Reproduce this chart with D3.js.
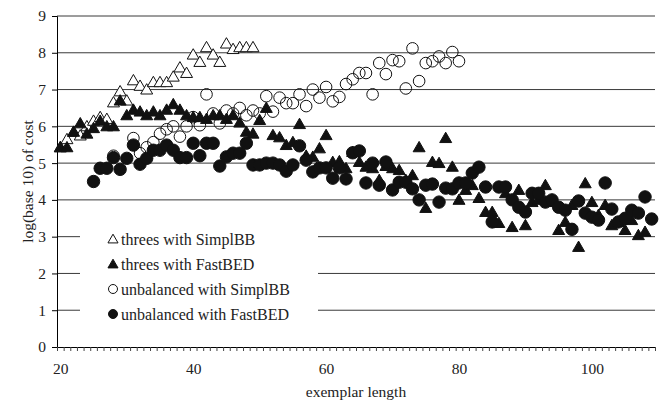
<!DOCTYPE html>
<html>
<head>
<meta charset="utf-8">
<script src="https://cdn.jsdelivr.net/npm/d3@7"></script>
<style>
  body { margin: 0; background: #fff; }
  svg, svg text { font-family: "Liberation Serif", "Times New Roman", serif; }
</style>
</head>
<body>
<script>
const width = 661, height = 401;
const plotLeft = 57, plotRight = 655, plotTop = 16, plotBottom = 347;
const serif = "'Liberation Serif', 'Times New Roman', serif";

// x categories: exemplar length 20..109
const firstLen = 20, lastLen = 109;
const xLabels = [20, 40, 60, 80, 100];
const yTicks = [0, 1, 2, 3, 4, 5, 6, 7, 8, 9];

// threes with SimplBB, lengths 20..49
const threesSimplStart = 20;
const threesSimpl = [5.43, 5.65, 5.85, 5.75, 6.0, 6.15, 6.25, 6.2, 6.65, 6.95,
  6.7, 7.25, 7.1, 7.0, 7.2, 7.2, 7.2, 7.35, 7.6, 7.45,
  7.95, 7.75, 8.15, 7.95, 7.75, 8.25, 8.1, 8.15, 8.15, 8.15];

// threes with FastBED, lengths 20..108
const threesFastStart = 20;
const threesFast = [5.43, 5.43, 5.85, 6.08, 5.8, 5.95, 6.15, 6.0, 6.0, 6.7,
  6.3, 6.45, 6.4, 6.3, 6.4, 6.3, 6.45, 6.6, 6.45, 6.3,
  6.25, 6.25, 6.2, 6.3, 6.3, 6.2, 6.3, 6.1, 5.85, 5.8,
  6.17, 6.5, 5.76, 5.7, 5.49, 5.57, 6.06, 5.2, 5.17, 5.4,
  5.76, 5.03, 5.05, 4.86, 5.3, 5.03, 4.9, 4.86, 4.54, 4.92,
  4.86, 4.81, 4.54, 4.67, 5.43, 3.78, 5.03, 5.0, 5.68, 4.9,
  4.0, 4.27, 4.4, 4.05, 3.67, 3.67, 3.37, 4.18, 3.26, 4.27,
  3.31, 3.94, 4.0, 4.4, 3.94, 3.18, 3.4, 3.86, 2.72, 4.45,
  3.94, 3.59, 3.86, 3.31, 3.4, 3.18, 3.45, 3.04, 3.13];

// unbalanced with SimplBB, lengths 28..80 (null = no point)
const unbalSimplStart = 28;
const unbalSimpl = [5.2, null, null, 5.68, 5.27, 5.43, 5.57, 5.8, 5.92, 6.0,
  5.72, 6.0, 6.25, 6.03, 6.87, 6.35, 6.08, 6.43, 6.35, 6.5,
  6.3, 6.43, 6.35, 6.82, 6.4, 6.78, 6.63, 6.63, 6.87, 6.55,
  7.0, 6.78, 7.07, 6.68, 6.8, 7.15, 7.28, 7.45, 7.45, 6.87,
  7.72, 7.42, 7.8, 7.77, 7.03, 8.12, 7.23, 7.72, 7.77, 7.9,
  7.72, 8.02, 7.77];

// unbalanced with FastBED, lengths 25..109
const unbalFastStart = 25;
const unbalFast = [4.5, 4.86, 4.86, 5.15, 4.83, 5.13, 5.49, 4.97, 5.13, 5.35,
  5.35, 5.49, 5.35, 5.15, 5.15, 5.54, 5.2, 5.54, 5.54, 4.92,
  5.17, 5.27, 5.27, 5.54, 4.95, 4.95, 5.0, 5.0, 4.95, 4.78,
  4.95, 5.47, 5.08, 4.76, 4.87, 4.87, 4.59, 4.87, 4.57, 5.28,
  5.33, 4.46, 5.0, 4.4, 5.03, 4.27, 4.48, 4.48, 4.3, 4.0,
  4.4, 4.43, 3.94, 4.32, 4.3, 4.46, 4.46, 4.73, 4.89, 4.35,
  3.4, 4.35, 4.35, 4.0, 3.8, 3.67, 4.18, 4.18, 3.94, 4.0,
  3.8, 3.72, 3.2, 3.97, 3.64, 3.53, 3.45, 4.46, 3.75, 3.4,
  3.5, 3.72, 3.64, 4.08, 3.48];

const series = [
  { name: "threes with SimplBB", start: threesSimplStart, values: threesSimpl, shape: "tri", filled: false },
  { name: "threes with FastBED", start: threesFastStart, values: threesFast, shape: "tri", filled: true },
  { name: "unbalanced with SimplBB", start: unbalSimplStart, values: unbalSimpl, shape: "circle", filled: false },
  { name: "unbalanced with FastBED", start: unbalFastStart, values: unbalFast, shape: "circle", filled: true }
];

const svg = d3.select("body").append("svg")
  .attr("width", width)
  .attr("height", height);

svg.append("rect").attr("width", width).attr("height", height).attr("fill", "#fff");

const x = d3.scaleLinear().domain([firstLen - 0.5, lastLen + 0.5]).range([plotLeft, plotRight]);
const y = d3.scaleLinear().domain([0, 9]).range([plotBottom, plotTop]);

// gridlines
svg.append("g")
  .selectAll("line")
  .data(yTicks.filter(d => d > 0))
  .enter().append("line")
  .attr("x1", plotLeft).attr("x2", plotRight)
  .attr("y1", d => y(d)).attr("y2", d => y(d))
  .attr("stroke", "#3a3a3a")
  .attr("stroke-width", 1);

// y axis
const yAxis = svg.append("g")
  .attr("transform", `translate(${plotLeft},0)`)
  .call(d3.axisLeft(y).tickValues(yTicks).tickSize(5).tickPadding(6).tickFormat(d3.format("d")));
yAxis.select(".domain").attr("stroke", "#000");
yAxis.selectAll("text").attr("font-size", 15.5).attr("fill", "#222").style("font-family", serif);

// x axis: a small tick between every category
const boundaries = d3.range(firstLen - 0.5, lastLen + 1, 1);
const xAxis = svg.append("g")
  .attr("transform", `translate(0,${plotBottom})`)
  .call(d3.axisBottom(x).tickValues(boundaries).tickSize(4).tickFormat(""));
xAxis.select(".domain").attr("stroke", "#000");
xAxis.selectAll(".tick line").attr("stroke", "#444");

const xLab = svg.append("g")
  .attr("transform", `translate(0,${plotBottom})`)
  .call(d3.axisBottom(x).tickValues(xLabels).tickSize(0).tickPadding(16));
xLab.select(".domain").remove();
xLab.selectAll("text").attr("font-size", 15.5).attr("fill", "#222").style("font-family", serif);

// axis titles
svg.append("text")
  .attr("x", (plotLeft + plotRight) / 2)
  .attr("y", 397)
  .attr("text-anchor", "middle")
  .attr("font-size", 15.5)
  .attr("fill", "#222")
  .style("font-family", serif)
  .text("exemplar length");

svg.append("text")
  .attr("transform", `translate(33,${(plotTop + plotBottom) / 2}) rotate(-90)`)
  .attr("text-anchor", "middle")
  .attr("font-size", 15.5)
  .attr("fill", "#222")
  .style("font-family", serif)
  .text("log(base 10) of cost");

// points
const tri = d3.symbol().type(d3.symbolTriangle).size(62);
const triSmall = d3.symbol().type(d3.symbolTriangle).size(44);

series.forEach(s => {
  const pts = s.values
    .map((v, i) => ({ len: s.start + i, v: v }))
    .filter(d => d.v != null);
  const g = svg.append("g");
  if (s.shape === "tri") {
    g.selectAll("path").data(pts).enter().append("path")
      .attr("d", tri)
      .attr("transform", d => `translate(${x(d.len)},${y(d.v) + 1})`)
      .attr("fill", s.filled ? "#111" : "#fff")
      .attr("stroke", "#111")
      .attr("stroke-width", 1);
  } else {
    g.selectAll("circle").data(pts).enter().append("circle")
      .attr("cx", d => x(d.len))
      .attr("cy", d => y(d.v))
      .attr("r", s.filled ? 6.2 : 5.8)
      .attr("fill", s.filled ? "#111" : "none")
      .attr("stroke", "#111")
      .attr("stroke-width", 1);
  }
});

// legend
const legend = svg.append("g");
legend.append("rect")
  .attr("x", 80).attr("y", 228)
  .attr("width", 238).attr("height", 100)
  .attr("fill", "#fff");

const rowY = [239, 264, 289, 314];
series.forEach((s, i) => {
  const row = legend.append("g").attr("transform", `translate(113,${rowY[i]})`);
  if (s.shape === "tri") {
    row.append("path").attr("d", triSmall).attr("transform", "translate(0,1)")
      .attr("fill", s.filled ? "#111" : "#fff").attr("stroke", "#111");
  } else {
    row.append("circle").attr("r", 4.5)
      .attr("fill", s.filled ? "#111" : "#fff").attr("stroke", "#111");
  }
  row.append("text")
    .attr("x", 8)
    .attr("dy", "0.35em")
    .attr("font-size", 16)
    .attr("fill", "#222")
    .style("font-family", serif)
    .text(s.name);
});
</script>
</body>
</html>
